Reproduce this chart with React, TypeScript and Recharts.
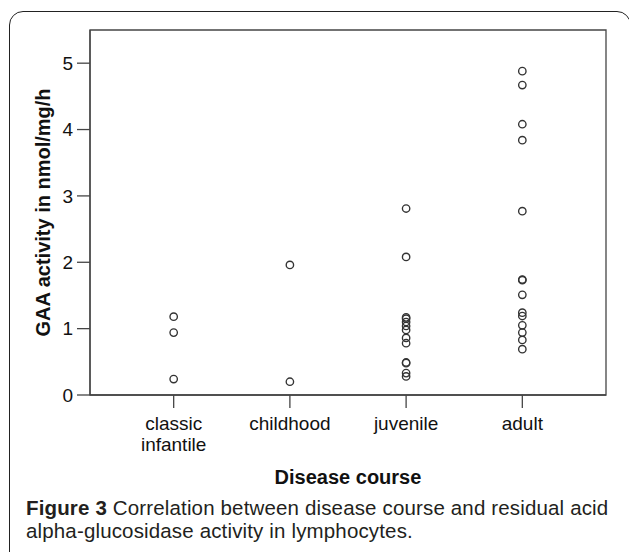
import React from "react";
import { ScatterChart, Scatter, XAxis, YAxis, ReferenceArea } from "recharts";

const CATEGORIES = ["classic\ninfantile", "childhood", "juvenile", "adult"];
const CLASSIC_INFANTILE = [1.18, 0.94, 0.24];
const CHILDHOOD = [1.96, 0.2];
const JUVENILE = [2.81, 2.08, 1.17, 1.15, 1.1, 1.04, 0.98, 0.86, 0.78, 0.49, 0.48, 0.33, 0.28];
const ADULT = [4.88, 4.67, 4.08, 3.84, 2.77, 1.74, 1.73, 1.51, 1.24, 1.19, 1.05, 0.94, 0.83, 0.69];
const Y_TICKS = [0, 1, 2, 3, 4, 5];
const X_TICKS = [1, 2, 3, 4];
const X_DOMAIN = [0.28, 4.72];
const Y_DOMAIN = [0, 5.5];
const Y_TITLE = "GAA activity in nmol/mg/h";
const X_TITLE = "Disease course";
const CAPTION_BOLD = "Figure 3";
const CAPTION_LINE1 = " Correlation between disease course and residual acid";
const CAPTION_LINE2 = "alpha-glucosidase activity in lymphocytes.";

const SERIES = [CLASSIC_INFANTILE, CHILDHOOD, JUVENILE, ADULT];
const data = SERIES.flatMap((vals, i) => vals.map((v) => ({ x: i + 1, y: v })));

const FONT = "'Liberation Sans', Arial, Helvetica, sans-serif";
const AXIS = "#454545";

const XTick = (props: any) => {
  const { x, y, payload } = props;
  const label = CATEGORIES[Math.round(payload.value) - 1] || "";
  const lines = label.split("\n");
  return (
    <text x={x} y={y} textAnchor="middle" fontFamily={FONT} fontSize={19} fill="#111">
      {lines.map((l, i) => (
        <tspan key={i} x={x} dy={i === 0 ? 20 : 21}>
          {l}
        </tspan>
      ))}
    </text>
  );
};

const Marker = (props: any) => (
  <circle cx={props.cx} cy={props.cy} r={3.7} fill="none" stroke="#333" strokeWidth={1.35} />
);

export default function App() {
  return (
    <div
      style={{
        position: "absolute",
        left: 0,
        top: 0,
        width: 629,
        height: 552,
        overflow: "hidden",
        background: "#fff",
      }}
    >
      <div
        style={{
          position: "absolute",
          left: 9,
          top: 11,
          width: 622,
          height: 600,
          border: "1.6px solid #222",
          borderRadius: 14,
          boxSizing: "border-box",
        }}
      />
      <div style={{ position: "absolute", left: 0, top: 0 }}>
        <ScatterChart width={629} height={552} margin={{ top: 30, right: 23, bottom: 127, left: 30 }}>
          <ReferenceArea
            x1={X_DOMAIN[0]}
            x2={X_DOMAIN[1]}
            y1={Y_DOMAIN[0]}
            y2={Y_DOMAIN[1]}
            fill="none"
            stroke={AXIS}
            strokeWidth={1.3}
            ifOverflow="visible"
          />
          <XAxis
            type="number"
            dataKey="x"
            domain={X_DOMAIN}
            ticks={X_TICKS}
            allowDataOverflow
            height={30}
            tickSize={13}
            tickMargin={2}
            stroke={AXIS}
            strokeWidth={1.3}
            tick={<XTick />}
            interval={0}
            label={(p: any) => {
              const vb = p.viewBox;
              return (
                <text
                  x={vb.x + vb.width / 2}
                  y={484}
                  textAnchor="middle"
                  fontFamily={FONT}
                  fontWeight="bold"
                  fontSize={20}
                  fill="#111"
                >
                  {X_TITLE}
                </text>
              );
            }}
          />
          <YAxis
            type="number"
            dataKey="y"
            domain={Y_DOMAIN}
            ticks={Y_TICKS}
            allowDataOverflow
            width={60}
            tickSize={13}
            tickMargin={4}
            stroke={AXIS}
            strokeWidth={1.3}
            tick={{ fontFamily: FONT, fontSize: 19, fill: "#111" }}
            label={(p: any) => {
              const vb = p.viewBox;
              const cy = vb.y + vb.height / 2;
              return (
                <text
                  x={50}
                  y={cy}
                  transform={`rotate(-90, 50, ${cy})`}
                  textAnchor="middle"
                  fontFamily={FONT}
                  fontWeight="bold"
                  fontSize={20}
                  fill="#111"
                >
                  {Y_TITLE}
                </text>
              );
            }}
          />
          <Scatter data={data} shape={<Marker />} isAnimationActive={false} />
        </ScatterChart>
      </div>
      <div
        style={{
          position: "absolute",
          left: 26,
          top: 496,
          width: 600,
          fontFamily: FONT,
          fontSize: 20.5,
          letterSpacing: "0.15px",
          lineHeight: "23px",
          color: "#231f20",
          whiteSpace: "nowrap",
        }}
      >
        <div>
          <b>{CAPTION_BOLD}</b>
          {CAPTION_LINE1}
        </div>
        <div>{CAPTION_LINE2}</div>
      </div>
    </div>
  );
}
